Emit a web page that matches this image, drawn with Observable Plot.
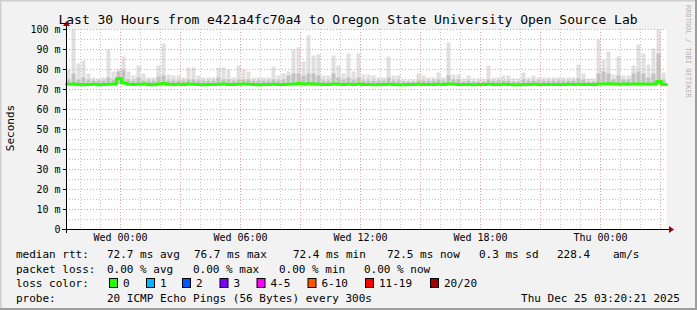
<!DOCTYPE html>
<html><head><meta charset="utf-8">
<script src="https://cdn.jsdelivr.net/npm/d3@7"></script>
<script src="https://cdn.jsdelivr.net/npm/@observablehq/plot@0.6"></script>
<style>
html,body{margin:0;padding:0;background:#f2f2f2;}
#chart{width:697px;height:310px;}
svg{display:block}
</style></head><body><div id="chart"></div>
<script>
const titleText = "Last 30 Hours from e421a4fc70a4 to Oregon State University Open Source Lab";
const yAxisLabel = "Seconds";
const watermark = "RRDTOOL / TOBI OETIKER";
const startTime = new Date(Date.UTC(2025, 11, 23, 21, 18));
const endTime = new Date(Date.UTC(2025, 11, 25, 3, 18));
const binMinutes = 15;
const smokeFloor = 72.2;

// top of the light smoke (highest ping) per 15-minute step, ms
const smokeMax = [
 80,100,83,84.5,78,76,75.5,76,90,79,
 80,86.5,79,77,82,78,76,76,82,93,
 77.5,77,77,76,81,81,77,76,76,76,
 81,81,80,76,82,80,79,76,76,76,
 76,81.5,77,78,79,90,91,84,97,87,
 87.5,77,77,87,82,78,88,79,88,77.5,
 77.5,77,76,76,86.5,77,77,75,75,75,
 78,77,76,76,78.5,76,93.5,77.5,77.5,75.5,
 77,75.5,75.5,75.5,82,76,76,77,77,75.5,
 75.5,78.5,76,77,76,76,76,76,76,76,
 76,76,82.5,78,75.5,75.5,95,85,89,77.5,
 86.5,77,77,82,92.5,88,82.5,90.5,100,78.5];

// top of the darker smoke per step, ms
const smokeMid = [
 75,78,75,76,75,74.5,74.5,74.5,76,75,
 79,80,75,74.5,76,74.5,74.5,74.5,76.5,77,
 74.5,74.5,74.5,74.5,75,75,74.5,74.5,74.5,74.5,
 76,75,75,74.5,75,75,75,74.5,74.5,74.5,
 74.5,75,74.5,75,77,78,78,77,78,78,
 77,74.5,74.5,78,76,75,76,75,76,74.5,
 74.5,74.5,74.5,74.5,76,74.5,74.5,74,74,74,
 74.5,74.5,74.5,74.5,75,74.5,77,75,75,74,
 74.5,74,74,74,75,74.5,74.5,74.5,74.5,74,
 74,75,74.5,74.5,74.5,74.5,74.5,74.5,74.5,74.5,
 74.5,74.5,75.5,75,74,74,78,79,78,75,
 77,75,75,78,79,78,76,78,88,75];

// median rtt per step, ms
const median = [
 72.6,72.8,72.5,72.4,72.5,72.6,72.4,72.5,72.6,72.8,
 75.5,73.2,72.6,72.5,72.6,72.8,72.5,72.4,72.7,73.0,
 72.6,72.5,72.6,72.5,72.7,72.6,72.5,72.4,72.5,72.5,
 72.6,72.7,72.5,72.5,72.6,72.7,72.6,72.5,72.4,72.5,
 72.5,72.6,72.5,72.5,72.6,72.8,73.0,72.8,72.9,72.7,
 72.6,72.5,72.5,72.7,72.6,72.5,72.6,72.5,72.7,72.5,
 72.5,72.4,72.5,72.5,72.6,72.5,72.4,72.4,72.5,72.5,
 72.6,72.5,72.5,72.5,72.6,72.5,72.7,72.6,72.5,72.5,
 72.5,72.4,72.5,72.5,72.6,72.5,72.5,72.6,72.5,72.4,
 72.4,72.5,72.5,72.6,72.5,72.5,72.5,72.5,72.5,72.5,
 72.6,72.5,72.6,72.5,72.5,72.5,72.7,72.8,72.9,72.7,
 72.6,72.7,72.6,72.7,72.8,72.7,72.6,72.7,74.0,72.5];

const yTicks = [0,10,20,30,40,50,60,70,80,90,100];
const yMinorGrid = [5,15,25,35,45,55,65,75,85,95];
const xTickTimes = [Date.UTC(2025,11,24,0), Date.UTC(2025,11,24,6), Date.UTC(2025,11,24,12), Date.UTC(2025,11,24,18), Date.UTC(2025,11,25,0)];
const xTickLabels = ["Wed 00:00", "Wed 06:00", "Wed 12:00", "Wed 18:00", "Thu 00:00"];

const rttLine = ["median rtt:", "72.7 ms avg", "76.7 ms max", "72.4 ms min", "72.5 ms now", "0.3 ms sd", "228.4", "am/s"];
const lossLine = ["packet loss:", "0.00 % avg", "0.00 % max", "0.00 % min", "0.00 % now"];
const lossColorLabel = "loss color:";
const lossLabels = ["0", "1", "2", "3", "4-5", "6-10", "11-19", "20/20"];
const lossColors = ["#26ff00", "#00b8ff", "#0059ff", "#7e00ff", "#ff00ff", "#ff5500", "#ff0000", "#a00000"];
const probeLine = ["probe:", "20 ICMP Echo Pings (56 Bytes) every 300s"];
const stampText = "Thu Dec 25 03:20:21 2025";

const step = binMinutes * 60000;
const rows = smokeMax.map((v, i) => ({
  t1: new Date(+startTime + i * step),
  t2: new Date(+startTime + (i + 1) * step),
  max: v, mid: smokeMid[i], med: median[i]
}));
const medPts = rows.map(r => ({t: r.t1, med: r.med}));
medPts.push({t: rows[rows.length - 1].t2, med: rows[rows.length - 1].med});

const hours = d3.utcHour.every(1).range(startTime, endTime);
const majorX = hours.filter(d => d.getUTCHours() % 3 === 0);
const minorX = hours.filter(d => d.getUTCHours() % 3 !== 0);
const dots = "1,2";

const svg = Plot.plot({
  width: 697, height: 310,
  marginLeft: 66, marginRight: 31, marginTop: 29, marginBottom: 81,
  style: {fontFamily: "DejaVu Sans Mono", fontSize: "10px", background: "#f2f2f2", color: "#000", overflow: "visible"},
  x: {type: "utc", domain: [startTime, endTime]},
  y: {domain: [0, 100]},
  marks: [
    Plot.frame({fill: "white", stroke: null}),
    Plot.rectY(rows, {x1: "t1", x2: "t2", y1: smokeFloor, y2: "max", fill: "#e0e0e0", inset: 0.5}),
    Plot.rectY(rows, {x1: "t1", x2: "t2", y1: smokeFloor, y2: "mid", fill: "#c2c2c2", inset: 0.5}),
    Plot.ruleY(yMinorGrid, {stroke: "#c4c4c4", strokeDasharray: dots}),
    Plot.ruleX(minorX, {stroke: "#c4c4c4", strokeDasharray: dots}),
    Plot.ruleY(yTicks.slice(1), {stroke: "#e8a0a0", strokeDasharray: dots}),
    Plot.ruleX(majorX, {stroke: "#e8a0a0", strokeDasharray: dots}),
    Plot.lineY(medPts, {x: "t", y: "med", curve: "step-after", stroke: "#26ff00", strokeWidth: 3}),
    Plot.axisY(yTicks, {tickFormat: d => d === 0 ? "0" : d + " m", tickSize: 3, tickPadding: 3, label: null}),
    Plot.axisX(xTickTimes.map(d => new Date(d)), {tickFormat: d => xTickLabels[xTickTimes.indexOf(+d)], tickSize: 0, tickPadding: 4, label: null})
  ]
});
document.getElementById("chart").appendChild(svg);

const sx = svg.scale("x"), sy = svg.scale("y");
const g = d3.select(svg).append("g");
const x0 = sx.apply(startTime), x1 = sx.apply(endTime);
const y0 = sy.apply(0), yTop = sy.apply(100);
// axes
g.append("line").attr("x1", x0 - 4).attr("x2", x1 + 4).attr("y1", y0 + 0.5).attr("y2", y0 + 0.5).attr("stroke", "#000");
g.append("line").attr("x1", x0 + 0.5).attr("x2", x0 + 0.5).attr("y1", y0 + 4).attr("y2", yTop - 4).attr("stroke", "#000");
g.append("path").attr("d", `M${x1 + 3},${y0 - 3}L${x1 + 8},${y0 + 0.5}L${x1 + 3},${y0 + 4}Z`).attr("fill", "#a00000");
g.append("path").attr("d", `M${x0 - 3},${yTop - 3}L${x0 + 0.5},${yTop - 8}L${x0 + 4},${yTop - 3}Z`).attr("fill", "#a00000");

const mono = "DejaVu Sans Mono";
function txt(s, x, y, size, opts = {}) {
  const t = g.append("text").attr("x", x).attr("y", y).attr("font-family", mono)
    .attr("font-size", size).attr("fill", opts.fill || "#000").attr("text-anchor", opts.anchor || "start")
    .style("white-space", "pre").text(s);
  if (opts.transform) t.attr("transform", opts.transform);
  return t;
}
txt(titleText, 348, 23.5, 13, {anchor: "middle"});
txt(yAxisLabel, 0, 0, 11, {anchor: "middle", transform: "translate(14,128) rotate(-90)"});
txt(watermark, 0, 0, 7, {fill: "#b4b4b4", transform: "translate(686,5) rotate(90)"});

const rttX = [16, 107, 194, 293, 387, 479, 557, 613];
rttLine.forEach((s, i) => txt(s, rttX[i], 258, 11));
const lossX = [16, 107, 193, 279, 364];
lossLine.forEach((s, i) => txt(s, lossX[i], 272.5, 11));
txt(lossColorLabel, 16, 287, 11);
const boxX = [109, 146, 182, 219.5, 256.5, 307.5, 365, 430];
lossLabels.forEach((s, i) => {
  g.append("rect").attr("x", boxX[i] + 0.5).attr("y", 278.5).attr("width", 8).attr("height", 9)
    .attr("fill", lossColors[i]).attr("stroke", "#000");
  txt(s, boxX[i] + 14, 287, 11);
});
txt(probeLine[0], 16, 301.5, 11);
txt(probeLine[1], 107, 301.5, 11);
txt(stampText, 680, 301.5, 11, {anchor: "end"});
// frame shading
g.append("rect").attr("x", 0).attr("y", 0).attr("width", 697).attr("height", 1.5).attr("fill", "#cfcfcf");
g.append("rect").attr("x", 0).attr("y", 0).attr("width", 1.5).attr("height", 310).attr("fill", "#cfcfcf");
g.append("rect").attr("x", 695).attr("y", 0).attr("width", 2).attr("height", 310).attr("fill", "#9e9e9e");
g.append("rect").attr("x", 0).attr("y", 308).attr("width", 697).attr("height", 2).attr("fill", "#9e9e9e");
</script></body></html>
